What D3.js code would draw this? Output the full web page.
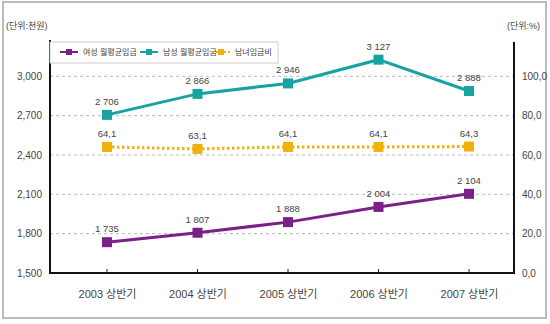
<!DOCTYPE html>
<html lang="ko">
<head>
  <meta charset="UTF-8">
  <title>월평균임금</title>
  <script src="https://d3js.org/d3.v7.min.js"></script>
  <style>
    body { margin: 0; background: #fff; }
    text { font-family: "Liberation Sans Narrow", "Liberation Sans", "Noto Sans CJK KR", sans-serif; fill: #444; }
  </style>
</head>
<body>
  <svg id="chart" width="550" height="324"></svg>
  <script>
    // data
    const periods = ["2003 상반기", "2004 상반기", "2005 상반기", "2006 상반기", "2007 상반기"];
    const femaleWage = [1735, 1807, 1888, 2004, 2104];
    const maleWage = [2706, 2866, 2946, 3127, 2888];
    const wageRatio = [64.1, 63.1, 64.1, 64.1, 64.3];
    const leftTicks = [1500, 1800, 2100, 2400, 2700, 3000];
    const rightTicks = [0, 20, 40, 60, 80, 100];
    const seriesNames = ["여성 월평균임금", "남성 월평균임금", "남녀임금비"];

    const svg = d3.select("#chart");

    // outer frame
    svg.append("rect")
      .attr("x", 3).attr("y", 2).attr("width", 543).attr("height", 316)
      .attr("fill", "none").attr("stroke", "#bbb").attr("stroke-width", 2);

    const plotL = 50, plotR = 514, plotT = 37, plotB = 273;

    const x = d3.scalePoint().domain(periods).range([107, 469]);
    const yL = d3.scaleLinear().domain([1500, 3300]).range([plotB, plotT]);
    const yR = d3.scaleLinear().domain([0, 120]).range([plotB, plotT]);

    // grid lines
    svg.append("g").selectAll("line")
      .data(leftTicks.slice(1))
      .join("line")
      .attr("x1", plotL).attr("x2", plotR)
      .attr("y1", d => yL(d)).attr("y2", d => yL(d))
      .attr("stroke", "#aaa").attr("stroke-dasharray", "3,3").attr("stroke-width", 0.8);

    // left axis
    const axL = svg.append("g").attr("transform", `translate(${plotL},0)`)
      .call(d3.axisLeft(yL).tickValues(leftTicks).tickSize(0).tickPadding(8).tickFormat(d3.format(",")));
    axL.select(".domain").remove();
    axL.selectAll("text").style("font-size", "10px").attr("fill", "#555");

    // right axis
    const axR = svg.append("g").attr("transform", `translate(${plotR},0)`)
      .call(d3.axisRight(yR).tickValues(rightTicks).tickSize(0).tickPadding(8).tickFormat(d => d3.format(".1f")(d).replace(".", ",")));
    axR.select(".domain").remove();
    axR.selectAll("text").style("font-size", "10px").attr("fill", "#555");

    // bottom axis
    const axB = svg.append("g").attr("transform", `translate(0,${plotB})`)
      .call(d3.axisBottom(x).tickSize(0).tickPadding(17));
    axB.select(".domain").remove();
    axB.selectAll("text").style("font-size", "11px").attr("fill", "#444");
    svg.append("g").selectAll("line")
      .data(periods).join("line")
      .attr("x1", d => x(d)).attr("x2", d => x(d))
      .attr("y1", plotB).attr("y2", plotB - 4)
      .attr("stroke", "#222").attr("stroke-width", 1);

    // frame lines
    svg.append("path")
      .attr("d", `M${plotL},${plotT + 3}V${plotB}H${plotR}V${plotT + 5}`)
      .attr("fill", "none").attr("stroke", "#111").attr("stroke-width", 2);

    // unit labels
    svg.append("text").attr("x", 6).attr("y", 29).text("(단위:천원)").style("font-size", "9px");
    svg.append("text").attr("x", 507).attr("y", 29).text("(단위:%)").style("font-size", "9px");

    const fmtSpace = d => d3.format(",")(d).replace(",", " ");
    const fmtComma = d => d3.format(".1f")(d).replace(".", ",");

    function drawSeries(values, yScale, color, dash, labelColor, fmt) {
      const pts = values.map((v, i) => [x(periods[i]), yScale(v), v]);
      svg.append("path")
        .attr("d", d3.line()(pts.map(p => [p[0], p[1]])))
        .attr("fill", "none").attr("stroke", color)
        .attr("stroke-width", 3)
        .attr("stroke-dasharray", dash || null);
      svg.append("g").selectAll("rect").data(pts).join("rect")
        .attr("x", d => d[0] - 5).attr("y", d => d[1] - 5)
        .attr("width", 10).attr("height", 10).attr("fill", color);
      svg.append("g").selectAll("text").data(pts).join("text")
        .attr("x", d => d[0]).attr("y", d => d[1] - 10)
        .attr("text-anchor", "middle").style("font-size", "9.5px")
        .attr("fill", labelColor)
        .text(d => fmt(d[2]));
    }

    drawSeries(maleWage, yL, "#17a39f", null, "#333", fmtSpace);
    drawSeries(wageRatio, yR, "#f0b20a", "2.5,2.5", "#e0a040", fmtComma);
    drawSeries(femaleWage, yL, "#7b2088", null, "#333", fmtSpace);

    // legend
    const legend = svg.append("g");
    legend.append("rect")
      .attr("x", plotL).attr("y", 42).attr("width", 228).attr("height", 21)
      .attr("fill", "#fff").attr("stroke", "#ccc");
    const legendItems = [
      { name: seriesNames[0], color: "#7b2088", dash: null, x: 60 },
      { name: seriesNames[1], color: "#17a39f", dash: null, x: 140 },
      { name: seriesNames[2], color: "#f0b20a", dash: "2,2", x: 212 }
    ];
    const li = legend.selectAll("g.item").data(legendItems).join("g")
      .attr("class", "item")
      .attr("transform", d => `translate(${d.x},52)`);
    li.append("line").attr("x1", 0).attr("x2", 18)
      .attr("stroke", d => d.color).attr("stroke-width", 2)
      .attr("stroke-dasharray", d => d.dash);
    li.append("rect").attr("x", 6).attr("y", -3).attr("width", 6).attr("height", 6)
      .attr("fill", d => d.color);
    li.append("text").attr("x", 23).attr("y", 3).style("font-size", "8px")
      .attr("fill", "#555").text(d => d.name);
  </script>
</body>
</html>
